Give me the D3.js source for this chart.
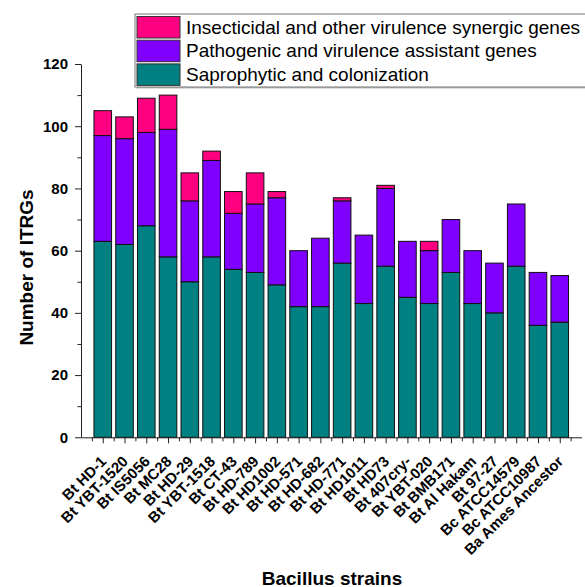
<!DOCTYPE html>
<html>
<head>
<meta charset="utf-8">
<script src="https://cdn.jsdelivr.net/npm/d3@7"></script>
<style>
  body { margin: 0; background: #fff; }
  svg { display: block; font-family: "Liberation Sans", Arial, sans-serif; }
</style>
</head>
<body>
<div id="container"><svg width="585" height="587"></svg></div>
<script>
// strains along the x axis
const strains = ["Bt HD-1", "Bt YBT-1520", "Bt IS5056", "Bt MC28", "Bt HD-29", "Bt YBT-1518",
  "Bt CT-43", "Bt HD-789", "Bt HD1002", "Bt HD-571", "Bt HD-682", "Bt HD-771", "Bt HD1011",
  "Bt HD73", "Bt 407cry-", "Bt YBT-020", "Bt BMB171", "Bt Al Hakam", "Bt 97-27",
  "Bc ATCC14579", "Bc ATCC10987", "Ba Ames Ancestor"];

// stacked series, bottom to top
const saprophytic  = [63, 62, 68, 58, 50, 58, 54, 53, 49, 42, 42, 56, 43, 55, 45, 43, 53, 43, 40, 55, 36, 37];
const pathogenic   = [34, 34, 30, 41, 26, 31, 18, 22, 28, 18, 22, 20, 22, 25, 18, 17, 17, 17, 16, 20, 17, 15];
const insecticidal = [ 8,  7, 11, 11,  9,  3,  7, 10,  2,  0,  0,  1,  0,  1,  0,  3,  0,  0,  0,  0,  0,  0];

const seriesNames = ["Saprophytic and colonization",
  "Pathogenic and virulence assistant genes",
  "Insecticidal and other virulence synergic genes"];
const seriesColors = ["#008080", "#8000ff", "#ff0080"];

const yTicks = [0, 20, 40, 60, 80, 100, 120];

// build rows for d3.stack
const rows = strains.map((s, i) => ({
  strain: s, idx: i,
  s0: saprophytic[i], s1: pathogenic[i], s2: insecticidal[i]
}));

const svg = d3.select("div#container").select("svg");
const font = '"Liberation Sans", Arial, sans-serif';

const x = d3.scaleLinear().domain([0, strains.length + 1]).range([81, 581.5]);
const y = d3.scaleLinear().domain([0, 120]).range([437.3, 64]);
const barW = 17.6;

const stack = d3.stack().keys(["s0", "s1", "s2"]);
const layers = stack(rows);

// bars
svg.append("g").selectAll("g")
  .data(layers)
  .join("g")
  .attr("fill", (d, i) => seriesColors[i])
  .selectAll("rect")
  .data(d => d.filter(p => p[1] - p[0] > 0))
  .join("rect")
  .attr("x", d => x(d.data.idx + 1) - barW / 2)
  .attr("y", d => y(d[1]))
  .attr("width", barW)
  .attr("height", d => y(d[0]) - y(d[1]))
  .attr("stroke", "#111")
  .attr("stroke-width", 1);

// y axis, major + minor
const yAxis = svg.append("g").attr("transform", "translate(81,0)")
  .call(d3.axisLeft(y).tickValues(yTicks).tickSize(6).tickPadding(7).tickSizeOuter(0));
svg.append("g").attr("transform", "translate(81,0)")
  .call(d3.axisLeft(y).tickValues(d3.range(10, 120, 20)).tickSize(3.5).tickFormat("").tickSizeOuter(0))
  .select(".domain").remove();
yAxis.selectAll("text")
  .style("font-family", font).style("font-size", "15px").style("font-weight", "bold").attr("fill", "#000");

// x axis, major ticks at bar centres + minor between
const xAxis = svg.append("g").attr("transform", "translate(0,437.3)")
  .call(d3.axisBottom(x).tickValues(d3.range(1, strains.length + 1))
    .tickSize(6).tickSizeOuter(0).tickFormat(d => strains[d - 1]));
svg.append("g").attr("transform", "translate(0,437.3)")
  .call(d3.axisBottom(x).tickValues(d3.range(0.5, strains.length + 1, 1))
    .tickSize(4).tickFormat("").tickSizeOuter(0))
  .select(".domain").remove();
xAxis.selectAll("text")
  .style("font-family", font).style("font-size", "15px").style("font-weight", "bold").attr("fill", "#000")
  .attr("text-anchor", "end")
  .attr("x", 0).attr("y", 0).attr("dy", 0)
  .attr("transform", "translate(4,25) rotate(-45)");

svg.selectAll(".domain, .tick line").attr("stroke", "#222");

// axis titles
svg.append("text")
  .attr("transform", "translate(33,267.5) rotate(-90)")
  .attr("text-anchor", "middle")
  .style("font-family", font).style("font-size", "19px").style("font-weight", "bold")
  .text("Number of ITRGs");
svg.append("text")
  .attr("x", 332).attr("y", 585)
  .attr("text-anchor", "middle")
  .style("font-family", font).style("font-size", "19px").style("font-weight", "bold")
  .text("Bacillus strains");

// legend (top series first)
const legend = svg.append("g");
legend.append("rect").attr("x", 136.5).attr("y", 15.5).attr("width", 470).attr("height", 73)
  .attr("fill", "#bbb");
legend.append("rect").attr("x", 135).attr("y", 14).attr("width", 470).attr("height", 73)
  .attr("fill", "#fff").attr("stroke", "#777").attr("stroke-width", 1);
const legendOrder = [2, 1, 0];
legendOrder.forEach((si, row) => {
  const top = 16.5 + row * 23.7;
  legend.append("rect").attr("x", 137).attr("y", top).attr("width", 43).attr("height", 21.5)
    .attr("fill", seriesColors[si]).attr("stroke", "#333").attr("stroke-width", 1);
  legend.append("text").attr("x", 186).attr("y", top + 17)
    .style("font-family", font).style("font-size", "19px").attr("fill", "#000")
    .text(seriesNames[si]);
});
</script>
</body>
</html>
